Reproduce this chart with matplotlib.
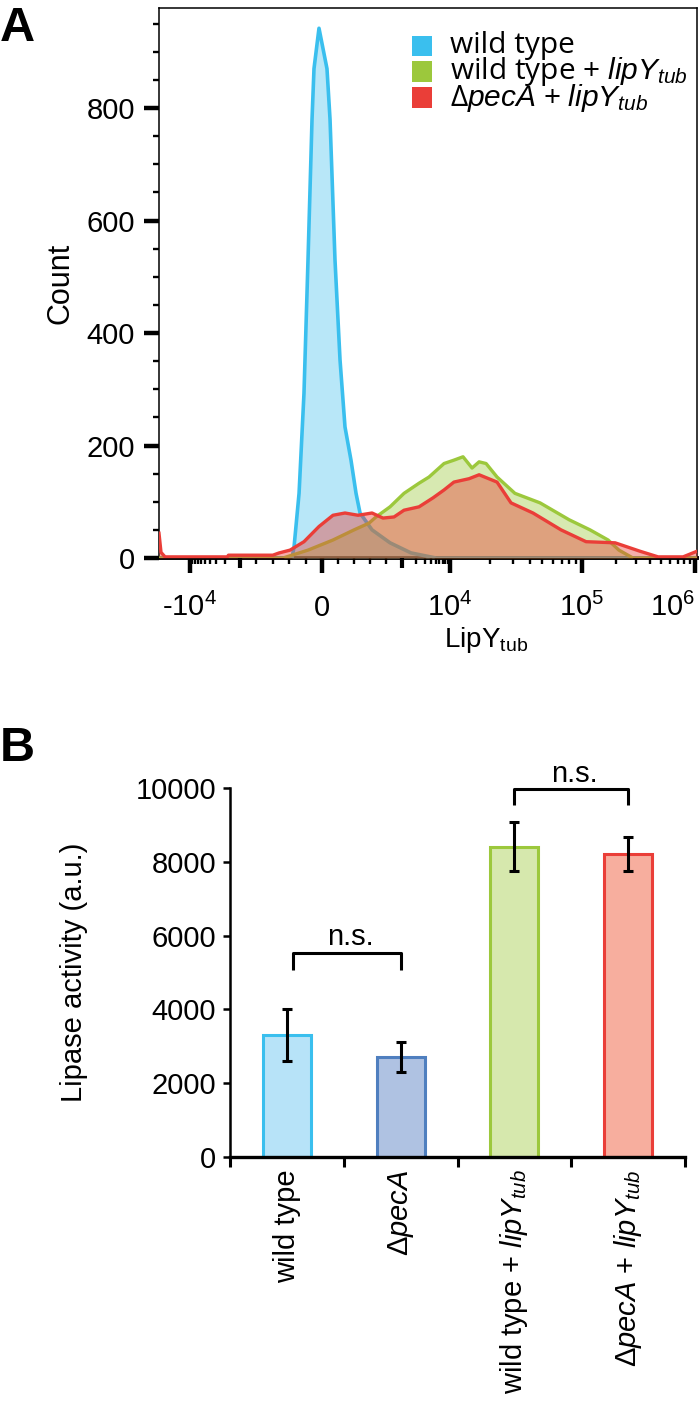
import numpy as np
import matplotlib
matplotlib.use('Agg')
import matplotlib.pyplot as plt
import matplotlib.transforms as mtrans
from matplotlib.patches import Rectangle

plt.rcParams['font.family'] = ['Liberation Sans', 'DejaVu Sans']
plt.rcParams['mathtext.fontset'] = 'custom'
plt.rcParams['mathtext.rm'] = 'Liberation Sans'
plt.rcParams['mathtext.it'] = 'Liberation Sans:italic'
plt.rcParams['mathtext.bf'] = 'Liberation Sans:bold'

# ---- panel A: flow histograms (fluorescence value, cell count)
wt_x = [-41700, -366, -341, -280, -220, -171, -122, -98, -37, 62, 100, 162, 225,
        287, 362, 425, 475, 625, 850, 1540, 5100, 1.04e6]
wt_n = [0, 0, 20, 115, 293, 530, 780, 870, 942, 870, 780, 530, 352,
        233, 174, 115, 80, 50, 27, 9, 0, 0]

lip_x = [-41700, -476, -171, 137, 400, 587, 675, 850, 1100, 2260, 3650, 7500, 10700,
         12540, 14680, 16600, 18750, 22700, 31000, 48100, 79800, 117700, 170000,
         212000, 282000, 1.04e6]
lip_n = [0, 0, 14, 32, 50, 62, 73, 91, 115, 133, 144, 168, 174,
         180, 160, 171, 168, 144, 115, 98, 68, 50, 32,
         14, 0, 0]

pec_x = [-41700, -38000, -31600, -1800, -1700, -600, -524, -390, -220, -37, 137, 287,
         450, 625, 762, 900, 1100, 2260, 4430, 7500, 10700, 13930, 16600, 22700,
         28970, 42500, 69300, 108500, 196000, 326000, 471000, 783000, 1.04e6]
pec_n = [44, 10, 2, 2, 5, 5, 9, 14, 29, 56, 76, 80,
         76, 80, 71, 73, 85, 91, 107, 121, 135, 141, 148, 135,
         98, 80, 50, 29, 27, 12, 2, 2, 12]

hist_names = ['wild type', 'wild type + $\\mathit{lipY}_{\\mathit{tub}}$',
              'Δ$\\mathit{pecA}$ + $\\mathit{lipY}_{\\mathit{tub}}$']

x_major = [-1e4, 0, 1e4, 1e5, 1e6]
x_major_labels = ['\u2010$\\mathregular{10^4}$', '0', '$\\mathregular{10^4}$',
                  '$\\mathregular{10^5}$', '$\\mathregular{10^6}$']
x_mid = [-1e3, 1e3]
x_minor = ([-k * 1e3 for k in range(2, 10)] + [-800, -600, -400, -200, 200, 400, 600, 800]
           + [k * 1e3 for k in range(2, 10)] + [k * 1e4 for k in range(2, 10)]
           + [k * 1e5 for k in range(2, 10)])

# ---- panel B: lipase activity
groups = ['wild type', 'Δ$\\mathit{pecA}$',
          'wild type + $\\mathit{lipY}_{\\mathit{tub}}$',
          'Δ$\\mathit{pecA}$ + $\\mathit{lipY}_{\\mathit{tub}}$']
activity = [3300, 2720, 8410, 8220]
activity_err = [710, 410, 660, 460]
# (left group, right group, bar top level, leg end level)
brackets = [(0.05, 1.0, 5540, 5070), (2.0, 3.0, 9970, 9540)]

blue, green, red = '#3ABFEE', '#9CC83C', '#EA3E38'
bar_fill = ['#B7E3F8', '#AFC2E2', '#D6E8AD', '#F7AE9E']
bar_edge = ['#3ABFEE', '#4F7FBF', '#9CC83C', '#EA3E38']


# biexponential-like display of the FACS axis: linear near 0, log beyond |1e3|
G_ANCH = np.array([-4, -3, -2, -1, 0, 1, 2, 3, 4, 5.0])
P_ANCH = np.array([90, 140, 190, 240, 322, 402, 450, 582, 695, 808.0])


def to_g(x):
    x = np.asarray(x, float)
    a = np.abs(x)
    g = np.where(a <= 1000, a / 1000, 1 + np.log10(np.maximum(a, 1000) / 1000))
    return np.sign(x) * g


def from_g(g):
    g = np.asarray(g, float)
    a = np.abs(g)
    x = np.where(a <= 1, a * 1000, 1000 * 10 ** (np.maximum(a, 1) - 1))
    return np.sign(g) * x


def fwd(x):
    return np.interp(to_g(x), G_ANCH, P_ANCH)


def inv(p):
    return from_g(np.interp(p, P_ANCH, G_ANCH))


fig = plt.figure(figsize=(7, 14.03), dpi=100)

# ================= panel A
ax = fig.add_axes([159 / 700, 1 - 558 / 1403, 538 / 700, 550 / 1403])
ax.set_xscale('function', functions=(fwd, inv))

ax.fill_between(wt_x, wt_n, color=blue, alpha=0.36, lw=0, zorder=1)
ax.plot(wt_x, wt_n, color=blue, lw=2.6, zorder=2)
ax.fill_between(lip_x, lip_n, color=green, alpha=0.4, lw=0, zorder=3)
ax.plot(lip_x, lip_n, color=green, lw=2.4, zorder=4)
ax.fill_between(pec_x, pec_n, color=red, alpha=0.42, lw=0, zorder=5)
ax.plot(pec_x, pec_n, color=red, lw=2.4, zorder=6)

ax.set_xlim(-41700, 1.04e6)
ax.set_ylim(0, 978)

ax.set_yticks(range(0, 801, 200))
ax.set_yticks(range(0, 951, 50), minor=True)
ax.set_xticks(x_major, x_major_labels)
ax.set_xticks(x_minor, minor=True)
ax.tick_params(axis='both', which='major', direction='out', length=10.8, width=3.2,
               labelsize=21)
ax.tick_params(axis='both', which='minor', direction='out', length=4.3, width=1.7)
ax.tick_params(axis='x', which='major', pad=31)
ax.tick_params(axis='y', which='major', pad=6.5)
for lab in ax.get_xticklabels():
    lab.set_verticalalignment('baseline')
ax.get_xticklabels()[-1].set_horizontalalignment('right')

trans = mtrans.blended_transform_factory(ax.transData, ax.transAxes)
for v in x_mid:
    ax.plot([v, v], [0, -10 / 550], transform=trans, color='black', lw=3,
            clip_on=False, solid_capstyle='butt', zorder=10)

for side in ['top', 'right', 'left']:
    ax.spines[side].set_linewidth(1.1)
ax.spines['bottom'].set_linewidth(2.8)
ax.spines['bottom'].set_zorder(0.5)

ax.set_ylabel('Count', fontsize=22)
ax.yaxis.set_label_coords(-0.156, 0.5)
ax.set_xlabel('LipY$_{\\mathregular{tub}}$', fontsize=20)
ax.xaxis.set_label_coords(0.608, -0.122)

# legend
for i, (name, col) in enumerate(zip(hist_names, [blue, green, red])):
    yc = [0.931, 0.884, 0.837][i]
    ax.add_patch(Rectangle((0.470, yc - 0.019), 0.038, 0.038, transform=ax.transAxes,
                           facecolor=col, edgecolor='none', zorder=8))
    ax.text(0.541, yc, name, transform=ax.transAxes, fontsize=21.5, va='center',
            ha='left', family=['Open Sans', 'DejaVu Sans'], zorder=8)

fig.text(0.0, 1 - 6 / 1403, 'A', fontsize=35, fontweight='bold', va='top', ha='left')

# ================= panel B
bx = fig.add_axes([230 / 700, 1 - 1157 / 1403, 455 / 700, 369 / 1403])
pos = np.arange(len(groups))
bx.bar(pos, activity, width=0.42, color=bar_fill, edgecolor=bar_edge, linewidth=2.2,
       yerr=activity_err, capsize=3.5,
       error_kw=dict(elinewidth=2.2, capthick=2.2, ecolor='black'), zorder=2)

for x0, x1, ytop, yleg in brackets:
    bx.plot([x0, x0, x1, x1], [yleg, ytop, ytop, yleg], color='black', lw=2.2,
            clip_on=False, solid_capstyle='butt')
    bx.text((x0 + x1) / 2 + 0.03, ytop + 200, 'n.s.', ha='center', va='baseline',
            fontsize=21)

bx.set_xlim(-0.5, len(groups) - 0.5)
bx.set_ylim(0, 10000)
bx.set_yticks(range(0, 10001, 2000))
bx.set_xticks(np.arange(-0.5, len(groups), 1.0))
bx.set_xticklabels([])
bx.set_xticks(pos, groups, minor=True)
bx.tick_params(axis='x', which='minor', length=0, labelsize=21, rotation=90, pad=9)
bx.tick_params(axis='x', which='major', length=7, width=2.2)
bx.tick_params(axis='y', length=5, width=1.8, labelsize=21, pad=5)
bx.spines['top'].set_visible(False)
bx.spines['right'].set_visible(False)
bx.spines['left'].set_linewidth(1.8)
bx.spines['bottom'].set_linewidth(2.4)
bx.set_ylabel('Lipase activity (a.u.)', fontsize=21)
bx.yaxis.set_label_coords(-0.312, 0.5)

fig.text(0.0, 1 - 726 / 1403, 'B', fontsize=35, fontweight='bold', va='top', ha='left')

fig.savefig('out.png', dpi=100)
